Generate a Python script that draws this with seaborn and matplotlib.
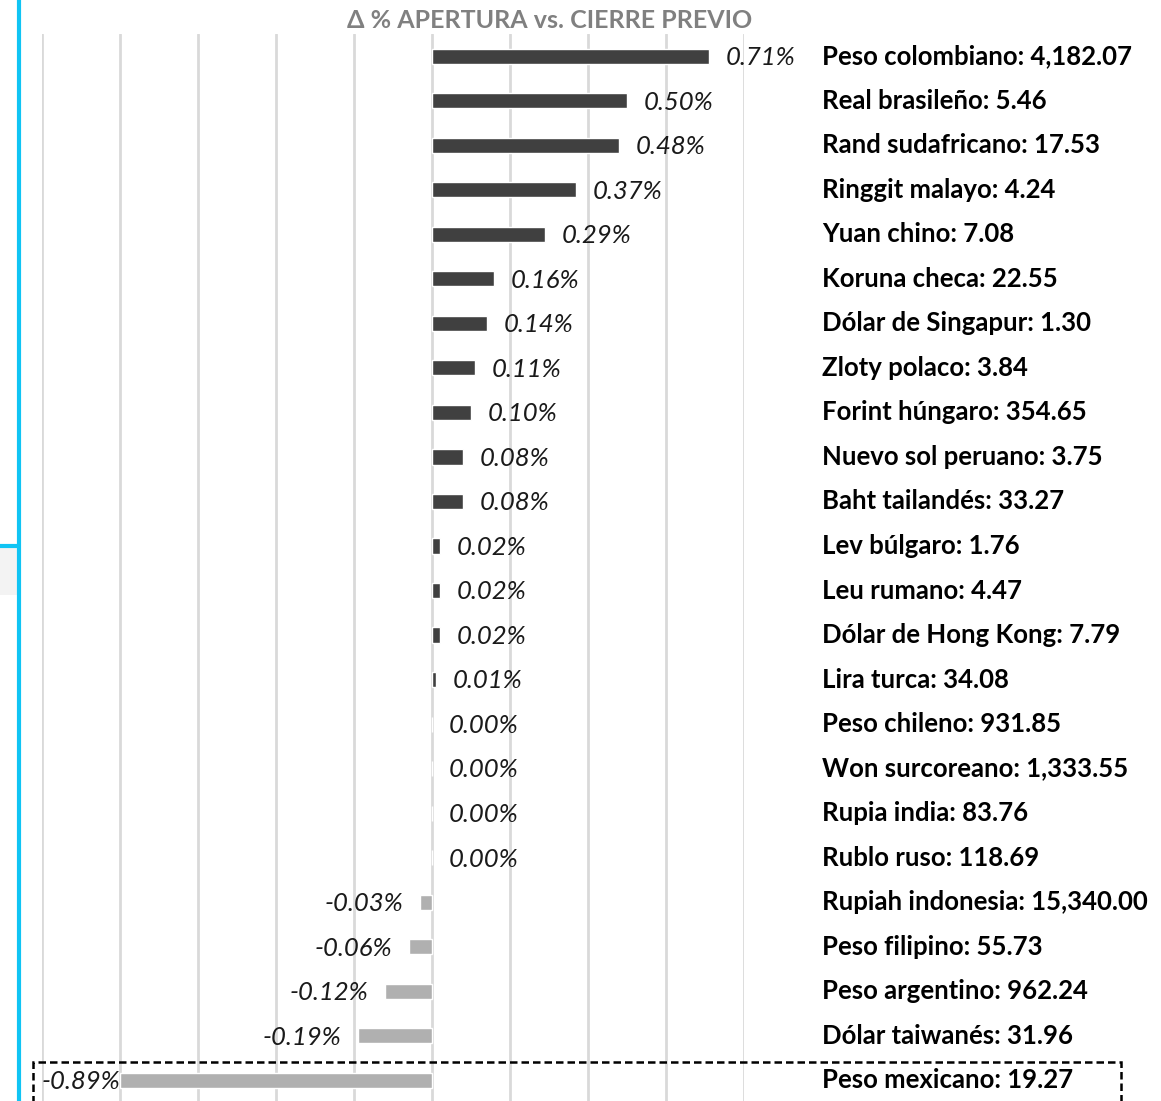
import numpy as np
import pandas as pd
import matplotlib
matplotlib.use("Agg")
import matplotlib.pyplot as plt
import seaborn as sns
from matplotlib.patches import Rectangle
from matplotlib.lines import Line2D

monedas = ["Peso colombiano", "Real brasileño", "Rand sudafricano", "Ringgit malayo",
           "Yuan chino", "Koruna checa", "Dólar de Singapur", "Zloty polaco",
           "Forint húngaro", "Nuevo sol peruano", "Baht tailandés", "Lev búlgaro",
           "Leu rumano", "Dólar de Hong Kong", "Lira turca", "Peso chileno",
           "Won surcoreano", "Rupia india", "Rublo ruso", "Rupiah indonesia",
           "Peso filipino", "Peso argentino", "Dólar taiwanés", "Peso mexicano"]
tipo_cambio = [4182.07, 5.46, 17.53, 4.24, 7.08, 22.55, 1.30, 3.84, 354.65, 3.75,
               33.27, 1.76, 4.47, 7.79, 34.08, 931.85, 1333.55, 83.76, 118.69,
               15340.00, 55.73, 962.24, 31.96, 19.27]
variacion = [0.71, 0.50, 0.48, 0.37, 0.29, 0.16, 0.14, 0.11, 0.10, 0.08, 0.08,
             0.02, 0.02, 0.02, 0.01, 0.00, 0.00, 0.00, 0.00, -0.03, -0.06,
             -0.12, -0.19, -0.89]

x_min, x_max = -0.8, 0.8   # eje en Excel: la barra de -0.89 queda cortada en -0.8
grid_min = -1.0

df = pd.DataFrame({"moneda": monedas, "tc": tipo_cambio, "var": variacion})
df["signo"] = np.where(df["var"] < 0, "neg", "pos")
df["var_plot"] = df["var"].clip(lower=x_min)

sns.set_style("white")
plt.rcParams["font.family"] = ["Lato", "DejaVu Sans"]

fig = plt.figure(figsize=(11.61, 11.01), dpi=100)
ax = fig.add_axes([42 / 1161, -1.5 / 1101, 702 / 1161, (1067 + 1.5) / 1101])

sns.barplot(data=df, x="var_plot", y="moneda", hue="signo",
            palette={"pos": "#404040", "neg": "#b0b0b0"},
            dodge=False, width=0.34, legend=False, ax=ax, orient="h")

ax.set_xlim(grid_min, x_max)
ax.set_ylim(len(df) - 0.5, -0.5)
ax.set_xticks(np.arange(grid_min, x_max + 0.01, 0.2))
ax.xaxis.grid(True, color="#d9d9d9", lw=2)
ax.set_axisbelow(True)
ax.tick_params(length=0, labelbottom=False, labelleft=False)
ax.set_xlabel("")
ax.set_ylabel("")
for s in ax.spines.values():
    s.set_visible(False)

fs = 18.5
for i, row in df.iterrows():
    v = row["var"]
    txt = f"{v:.2f}%"
    if v < x_min:
        ax.annotate(txt, xy=(grid_min, i), xytext=(0, -1), textcoords="offset points",
                    ha="left", va="center", fontsize=fs, style="italic", color="#1a1a1a")
    elif v < 0:
        ax.annotate(txt, xy=(v, i), xytext=(-12, -1), textcoords="offset points",
                    ha="right", va="center", fontsize=fs, style="italic", color="#1a1a1a")
    else:
        ax.annotate(txt, xy=(v, i), xytext=(12, -1), textcoords="offset points",
                    ha="left", va="center", fontsize=fs, style="italic", color="#1a1a1a",
                    annotation_clip=False)
    ax.text(1.0, i, f"{row['moneda']}: {row['tc']:,.2f}", ha="left", va="center",
            fontsize=fs, fontweight="bold", color="black", clip_on=False)

fig.text(550 / 1161, 1 - 20 / 1101, "Δ % APERTURA vs. CIERRE PREVIO", ha="center",
         va="center", fontsize=18, fontweight="bold", color="#808080")

# marco punteado alrededor del peso mexicano
fig.add_artist(Rectangle((33 / 1161, -0.02), (1121 - 33) / 1161, 0.02 + (1101 - 1062) / 1101,
                         transform=fig.transFigure, fill=False, ls=(0, (3, 1.6)),
                         lw=1.8, ec="black"))

# bordes de selección a la izquierda
fig.add_artist(Rectangle((0, 1 - 595 / 1101), 17 / 1161, 47 / 1101,
                         transform=fig.transFigure, fc="#f3f3f3", ec="none"))
fig.add_artist(Line2D([19 / 1161, 19 / 1161], [0, 1], transform=fig.transFigure,
                      color="#10c4f4", lw=3))
fig.add_artist(Line2D([0, 19 / 1161], [1 - 546 / 1101, 1 - 546 / 1101],
                      transform=fig.transFigure, color="#10c4f4", lw=3))

fig.savefig("out.png", dpi=100)
